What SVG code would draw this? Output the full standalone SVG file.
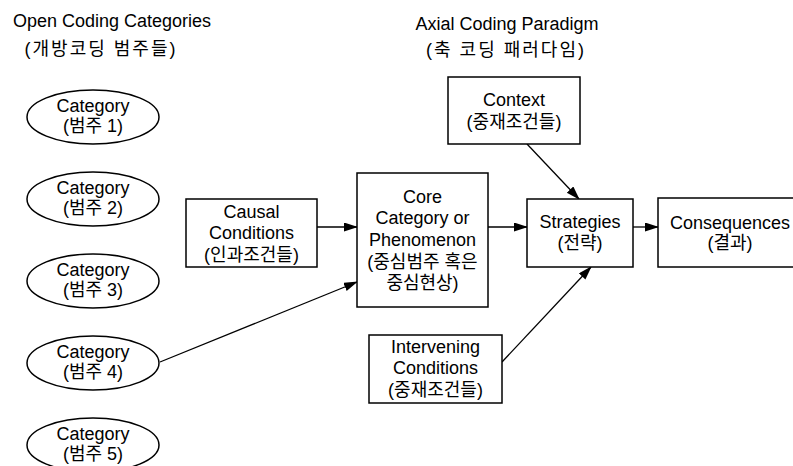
<svg xmlns="http://www.w3.org/2000/svg" width="793" height="466" viewBox="0 0 793 466">
<style>
text{font-family:"Liberation Sans","Noto Sans CJK KR",sans-serif;font-size:18px;fill:#000;text-anchor:middle}
.box{fill:#fff;stroke:#000;stroke-width:1.5}
.kt{letter-spacing:2px}
.con line{stroke:#000;stroke-width:1.3;marker-end:url(#ah)}
</style>
<defs>
<marker id="ah" markerUnits="userSpaceOnUse" markerWidth="14" markerHeight="10" refX="13" refY="4.5" orient="auto">
<path d="M0,0 L14,4.5 L0,9 z" fill="#000"/>
</marker>
</defs>
<rect width="793" height="466" fill="#fff"/>
<g id="titles">
<text x="112" y="27">Open Coding Categories</text>
<text x="101" y="55" class="kt">(개방코딩 범주들)</text>
<text x="507" y="30">Axial Coding Paradigm</text>
<text x="506" y="56" class="kt">(축 코딩 패러다임)</text>
</g>
<g class="con" id="connectors">
<line x1="317" y1="227" x2="357" y2="227"/>
<line x1="488" y1="227" x2="527" y2="227"/>
<line x1="633" y1="227" x2="658" y2="227"/>
<line x1="527" y1="144" x2="579" y2="199"/>
<line x1="502" y1="362" x2="591" y2="267"/>
<line x1="160" y1="362" x2="357" y2="282"/>
</g>
<g id="cat1"><ellipse class="box" cx="93" cy="117" rx="66" ry="27"/><text x="93" y="112">Category</text><text x="93" y="132">(범주 1)</text></g>
<g id="cat2"><ellipse class="box" cx="93" cy="199" rx="66" ry="27"/><text x="93" y="194">Category</text><text x="93" y="214">(범주 2)</text></g>
<g id="cat3"><ellipse class="box" cx="93" cy="281" rx="66" ry="27"/><text x="93" y="276">Category</text><text x="93" y="296">(범주 3)</text></g>
<g id="cat4"><ellipse class="box" cx="93" cy="363" rx="66" ry="27"/><text x="93" y="358">Category</text><text x="93" y="378">(범주 4)</text></g>
<g id="cat5"><ellipse class="box" cx="93" cy="445" rx="66" ry="27"/><text x="93" y="440">Category</text><text x="93" y="460">(범주 5)</text></g>
<g id="context"><rect class="box" x="448" y="77" width="132" height="67"/><text x="514" y="106">Context</text><text x="514" y="128">(중재조건들)</text></g>
<g id="causal"><rect class="box" x="186" y="199" width="131" height="68"/><text x="251.5" y="218">Causal</text><text x="251.5" y="239">Conditions</text><text x="251.5" y="261">(인과조건들)</text></g>
<g id="core"><rect class="box" x="357" y="173" width="131" height="134"/><text x="422.5" y="203">Core</text><text x="422.5" y="224">Category or</text><text x="422.5" y="246">Phenomenon</text><text x="422.5" y="268">(중심범주 혹은</text><text x="422.5" y="289">중심현상)</text></g>
<g id="strategies"><rect class="box" x="527" y="199" width="106" height="68"/><text x="580" y="228">Strategies</text><text x="580" y="249">(전략)</text></g>
<g id="consequences"><rect class="box" x="658" y="198" width="144" height="69"/><text x="730" y="229">Consequences</text><text x="730" y="249">(결과)</text></g>
<g id="intervening"><rect class="box" x="369" y="335" width="133" height="68"/><text x="435.5" y="353">Intervening</text><text x="435.5" y="374">Conditions</text><text x="435.5" y="396">(중재조건들)</text></g>
</svg>
